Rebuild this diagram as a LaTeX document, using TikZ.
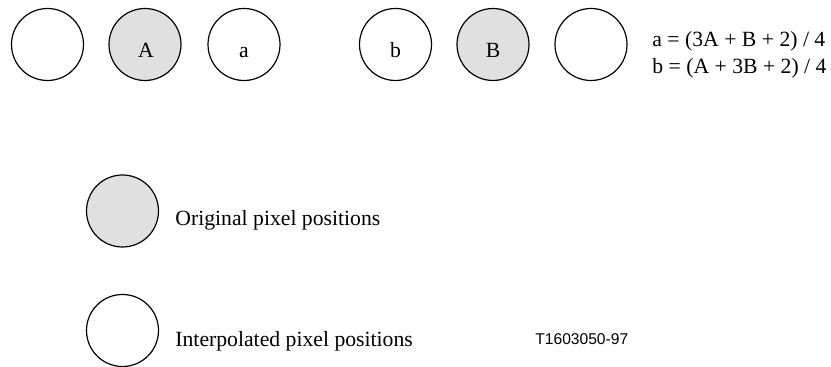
\documentclass[tikz,border=0pt]{standalone}
\usepackage{fontspec}
\setmainfont{Liberation Serif}
\newfontfamily\labsans{Liberation Sans}
\definecolor{pixgrey}{RGB}{224,224,224}
\begin{document}
\begin{tikzpicture}[x=0.5pt,y=-0.5pt,
  pix/.style={circle,draw=black,line width=0.6pt,minimum size=36pt,inner sep=0pt,fill=white},
  orig/.style={pix,fill=pixgrey},
  lab/.style={anchor=base,inner sep=0pt,font=\fontsize{10.85}{13}\selectfont},
  txt/.style={anchor=base west,inner sep=0pt,font=\fontsize{10.85}{13}\selectfont},
  code/.style={anchor=base west,inner sep=0pt,font=\labsans\fontsize{7.8}{9}\selectfont}]
\useasboundingbox (0,0) rectangle (831,367);
% top row
\node[pix]  (c1) at (47.5,44.5) {};
\node[orig] (c2) at (145,44.5) {};
\node[pix]  (c3) at (244,44.5) {};
\node[pix]  (c4) at (395.5,44.5) {};
\node[orig] (c5) at (493,44.5) {};
\node[pix]  (c6) at (591,44.5) {};
\node[lab] (tA) at (146,57.5) {A};
\node[lab] (ta) at (244,57.5) {a};
\node[lab] (tb) at (395.5,57.5) {b};
\node[lab] (tB) at (493,57.5) {B};
% formulas
\node[txt] (f1) at (652,46.5) {a = (3A + B + 2) / 4};
\node[txt] (f2) at (652,73.5) {b = (A + 3B + 2) / 4};
% legend
\node[orig] (lg) at (122.5,211) {};
\node[pix]  (lw) at (122.5,330.5) {};
\node[txt] (lgt) at (175,226) {Original pixel positions};
\node[txt] (lwt) at (175,347) {Interpolated pixel positions};
\node[code] (id) at (535,344.3) {T1603050-97};
\end{tikzpicture}
\end{document}
